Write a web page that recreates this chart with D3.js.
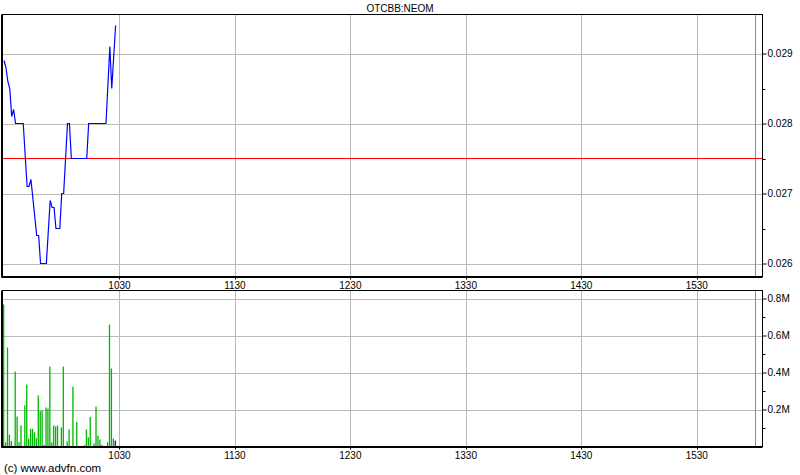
<!DOCTYPE html>
<html><head><meta charset="utf-8">
<script src="https://cdn.jsdelivr.net/npm/d3@7"></script>
<style>
html,body{margin:0;padding:0;background:#fff;}
text{font-family:"Liberation Sans",Arial,sans-serif;font-size:10px;fill:#000;}
</style></head>
<body>
<svg id="c" width="800" height="475"></svg>
<script>
const title = "OTCBB:NEOM";
const copyright = "(c) www.advfn.com";
const sessionStart = "09:30", sessionEnd = "16:00";
const timeTicks = ["10:30","11:30","12:30","13:30","14:30","15:30"];
const priceTicks = [0.026, 0.027, 0.028, 0.029];
const priceMinorTicks = [0.0265, 0.0275, 0.0285];
const volTicks = [200000, 400000, 600000, 800000];
const volMinorTicks = [100000, 300000, 500000, 700000];
const prevClose = 0.0275;

const priceTimes = ["09:30","09:31","09:32","09:33","09:34","09:35","09:36","09:40","09:42","09:43","09:44","09:47","09:48","09:49","09:52","09:54","09:55","09:56","09:57","09:59","10:00","10:01","10:03","10:04","10:05","10:13","10:14","10:23","10:25","10:26","10:28"];
const priceValues = [0.0289,0.0288,0.0286,0.0285,0.0281,0.0282,0.0280,0.0280,0.0271,0.0271,0.0272,0.0264,0.0264,0.0260,0.0260,0.0269,0.0268,0.0268,0.0265,0.0265,0.0270,0.0270,0.0280,0.0280,0.0275,0.0275,0.0280,0.0280,0.0291,0.0285,0.0294];

const volTimes = ["09:30","09:31","09:32","09:33","09:34","09:36","09:37","09:38","09:39","09:41","09:42","09:43","09:44","09:45","09:46","09:47","09:48","09:49","09:50","09:51","09:52","09:53","09:54","09:55","09:56","09:57","09:58","10:00","10:01","10:03","10:04","10:06","10:08","10:12","10:13","10:14","10:15","10:17","10:18","10:19","10:20","10:21","10:24","10:25","10:26","10:27","10:28"];
const volValues = [768000,23000,535000,65000,29000,405000,162000,23000,114000,222000,335000,43000,95000,95000,77000,45000,276000,191000,195000,9000,211000,205000,432000,22000,114000,108000,114000,103000,432000,27000,92000,324000,132000,7000,92000,49000,160000,16000,216000,59000,38000,9000,23000,659000,422000,43000,32000];

const parseT = s => { const [h,m] = s.split(":").map(Number); return h*60+m; };
const fmtT = s => s.replace(":","");

const svg = d3.select("#c");
const L = 2.5, R = 762.5;
const x = d3.scaleLinear().domain([parseT(sessionStart), parseT(sessionEnd)]).range([4, 754.5]);

const P = {top:14.5, bottom:276.5};
const V = {top:290.5, bottom:446.5};
const y = d3.scaleLinear().domain([0.026, 0.029]).range([263.5, 53.5]);
const yv = d3.scaleLinear().domain([0, 800000]).range([446.5, 298.5]);

svg.append("text").attr("x", 400).attr("y", 12).attr("text-anchor","middle").text(title);

function panel(top, bottom, yScale, ticks, minor, fmt, hcolor){
  const g = svg.append("g");
  g.selectAll("line.hg").data(ticks).join("line").attr("class","hg")
    .attr("x1", L).attr("x2", R)
    .attr("y1", d => Math.round(yScale(d))+0.5).attr("y2", d => Math.round(yScale(d))+0.5)
    .attr("stroke", hcolor).attr("stroke-width", 1);
  g.selectAll("line.vg").data(timeTicks).join("line").attr("class","vg")
    .attr("x1", d => Math.round(x(parseT(d)))+0.5).attr("x2", d => Math.round(x(parseT(d)))+0.5)
    .attr("y1", top).attr("y2", bottom)
    .attr("stroke", "#b4b9b9").attr("stroke-width", 1);
  g.append("line")
    .attr("x1", Math.round(x(parseT(sessionEnd)))+0.5).attr("x2", Math.round(x(parseT(sessionEnd)))+0.5)
    .attr("y1", top).attr("y2", bottom).attr("stroke", "#8c8c8c");
  const ax = d3.axisRight(yScale).tickValues(ticks).tickSize(4).tickFormat(fmt);
  const a = g.append("g").attr("transform", `translate(${R},0)`).call(ax);
  a.select(".domain").remove();
  a.selectAll("line").attr("stroke","#000");
  a.selectAll("text").attr("x", 5).style("font-size","10px").style("font-family","'Liberation Sans',Arial,sans-serif").attr("fill","#000");
  g.selectAll("line.mt").data(minor).join("line").attr("class","mt")
    .attr("x1", R).attr("x2", R+3)
    .attr("y1", d => Math.round(yScale(d))+0.5).attr("y2", d => Math.round(yScale(d))+0.5)
    .attr("stroke","#000");
  g.selectAll("text.tl").data(timeTicks).join("text").attr("class","tl")
    .attr("x", d => x(parseT(d))).attr("y", bottom+12).attr("text-anchor","middle").text(fmtT);
  g.selectAll("line.tk").data(timeTicks).join("line").attr("class","tk")
    .attr("x1", d => Math.round(x(parseT(d)))+0.5).attr("x2", d => Math.round(x(parseT(d)))+0.5)
    .attr("y1", bottom).attr("y2", bottom+3).attr("stroke","#000");
  return g;
}

panel(P.top, P.bottom, y, priceTicks, priceMinorTicks, d3.format(".3f"), "#b9bcae");
panel(V.top, V.bottom, yv, volTicks, volMinorTicks, d => (d/1e6) + "M", "#b4bcbc");

const vd = volTimes.map((t,i) => ({t: parseT(t), v: volValues[i], last: i === volTimes.length-1}));
svg.append("g").selectAll("rect").data(vd).join("rect")
  .attr("x", d => x(d.t) - 1)
  .attr("width", 1.3)
  .attr("y", d => yv(d.v))
  .attr("height", d => yv(0) - yv(d.v))
  .attr("fill", d => d.last ? "#0000ff" : "#00b800");

// prev close line (red, 1px)
svg.append("rect").attr("class","prevclose")
  .attr("x", L).attr("width", R - L)
  .attr("y", Math.floor(y(prevClose))).attr("height", 1)
  .attr("fill","#ff0000").attr("shape-rendering","crispEdges");

const pts = priceTimes.map((t,i) => [parseT(t), priceValues[i]]);
svg.append("path").datum(pts)
  .attr("d", d3.line().x(d => x(d[0])).y(d => y(d[1])))
  .attr("fill","none").attr("stroke","#0000ff").attr("stroke-width",1.2);

function frame(top, bottom){
  svg.append("rect").attr("x", L).attr("y", top).attr("width", R-L).attr("height", bottom-top)
    .attr("fill","none").attr("stroke","#000").attr("stroke-width",1);
  svg.append("line").attr("x1", L-1).attr("x2", L-1).attr("y1", top).attr("y2", bottom+1).attr("stroke","#000");
  svg.append("line").attr("x1", L-1).attr("x2", R).attr("y1", bottom+1).attr("y2", bottom+1).attr("stroke","#000");
}
frame(P.top, P.bottom);
frame(V.top, V.bottom);

svg.append("text").attr("x", 4).attr("y", 472).style("font-size","11.5px").text(copyright);
</script>
</body></html>
